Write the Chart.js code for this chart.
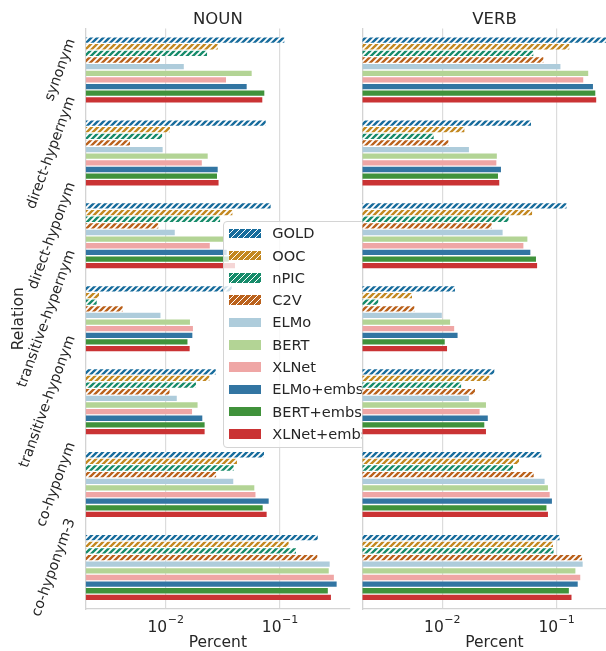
<!DOCTYPE html>
<html>
<head>
<meta charset="utf-8">
<script src="https://cdn.jsdelivr.net/npm/chart.js@4.4.1/dist/chart.umd.min.js"></script>
<style>
  body { margin: 0; width: 606px; height: 651px; overflow: hidden; position: relative; background: #fff; font-family: "DejaVu Sans", sans-serif; }
  .box { position: absolute; top: 0; height: 651px; }
  #legend { position: absolute; left: 222.7px; top: 220.7px; width: 200px; height: 225px; border: 1px solid #d4d4d4; border-radius: 4px; background: rgba(255,255,255,0.8); z-index: 2; }
  #legend .patch { position: absolute; left: 5.6px; width: 31.4px; height: 9.5px; }
  #legend .lab { position: absolute; left: 48.6px; font-size: 14.6px; color: #262626; line-height: 18px; white-space: nowrap; }
</style>
</head>
<body>
<div class="box" style="left:0; width:356px; z-index:1"><canvas id="noun"></canvas></div>
<div id="legend"></div>
<div class="box" style="left:358px; width:270px; z-index:3"><canvas id="verb"></canvas></div>
<script>
// categorias e series
const relations = ['synonym', 'direct-hypernym', 'direct-hyponym', 'transitive-hypernym', 'transitive-hyponym', 'co-hyponym', 'co-hyponym-3'];
const seriesNames = ['GOLD', 'OOC', 'nPIC', 'C2V', 'ELMo', 'BERT', 'XLNet', 'ELMo+embs', 'BERT+embs', 'XLNet+embs'];
const xTicks = [0.01, 0.1];
const xTickExp = ['\u22122', '\u22121'];

// NOUN (percent)
const nounGold      = [0.109, 0.075, 0.0828, 0.0378, 0.0274, 0.0724, 0.214];
const nounOoc       = [0.0285, 0.0109, 0.0383, 0.00261, 0.0241, 0.042, 0.119];
const nounNpic      = [0.023, 0.0093, 0.0299, 0.00249, 0.0184, 0.0393, 0.138];
const nounC2v       = [0.0089, 0.00487, 0.0086, 0.0042, 0.0108, 0.0276, 0.212];
const nounElmo      = [0.0144, 0.0094, 0.012, 0.009, 0.0125, 0.039, 0.272];
const nounBert      = [0.0565, 0.0233, 0.032, 0.0163, 0.019, 0.0596, 0.267];
const nounXlnet     = [0.0337, 0.0207, 0.0243, 0.0173, 0.017, 0.061, 0.296];
const nounElmoEmbs  = [0.0511, 0.0285, 0.0342, 0.0171, 0.0209, 0.0796, 0.313];
const nounBertEmbs  = [0.0729, 0.0281, 0.0356, 0.0155, 0.0219, 0.0705, 0.262];
const nounXlnetEmbs = [0.070, 0.029, 0.0404, 0.0162, 0.0219, 0.0764, 0.279];

// VERB
const verbGold      = [0.29, 0.0597, 0.122, 0.0129, 0.0285, 0.0735, 0.106];
const verbOoc       = [0.129, 0.0156, 0.061, 0.00543, 0.0258, 0.0469, 0.093];
const verbNpic      = [0.0625, 0.0084, 0.038, 0.00275, 0.0146, 0.0415, 0.094];
const verbC2v       = [0.0765, 0.0113, 0.027, 0.00569, 0.0193, 0.063, 0.167];
const verbElmo      = [0.108, 0.0171, 0.0337, 0.0099, 0.0171, 0.0785, 0.169];
const verbBert      = [0.189, 0.030, 0.0555, 0.0117, 0.0241, 0.084, 0.146];
const verbXlnet     = [0.171, 0.0297, 0.0512, 0.0127, 0.0212, 0.087, 0.161];
const verbElmoEmbs  = [0.208, 0.0326, 0.0589, 0.0136, 0.025, 0.091, 0.153];
const verbBertEmbs  = [0.218, 0.0307, 0.066, 0.0105, 0.0233, 0.0815, 0.128];
const verbXlnetEmbs = [0.222, 0.0315, 0.0675, 0.0110, 0.0241, 0.084, 0.135];

const nounSeries = [nounGold, nounOoc, nounNpic, nounC2v, nounElmo, nounBert, nounXlnet, nounElmoEmbs, nounBertEmbs, nounXlnetEmbs];
const verbSeries = [verbGold, verbOoc, verbNpic, verbC2v, verbElmo, verbBert, verbXlnet, verbElmoEmbs, verbBertEmbs, verbXlnetEmbs];

const colors = ['#176c9c', '#c38820', '#168b6a', '#ba611b', '#aeccdb', '#b3d495', '#efa6a5', '#3275a2', '#40923b', '#ca3334'];
const hatched = [true, true, true, true, false, false, false, false, false, false];

const xMin = Math.pow(10, -2.70);
const xMax = Math.pow(10, -0.3876);
const FONT = '"DejaVu Sans", sans-serif';
const TXT = '#262626';

function hatch(color) {
    const c = document.createElement('canvas');
    c.width = 6; c.height = 6;
    const g = c.getContext('2d');
    g.fillStyle = color;
    g.fillRect(0, 0, 6, 6);
    g.strokeStyle = '#ffffff';
    g.lineWidth = 1.9;
    g.beginPath();
    g.moveTo(0, 6); g.lineTo(6, 0);
    g.moveTo(-1, 1); g.lineTo(1, -1);
    g.moveTo(5, 7); g.lineTo(7, 5);
    g.stroke();
    return g.createPattern(c, 'repeat');
}

// textos desenhados a mao (titulo, rotulos giratorios, ticks 10^x)
const textPlugin = {
    id: 'texts',
    beforeDraw(chart, args, opts) {
        if (!opts.whiteBg) return;
        const ctx = chart.ctx;
        ctx.save();
        ctx.fillStyle = '#ffffff';
        ctx.fillRect(chart.chartArea.left - 0.6, 0, chart.width, chart.height);
        ctx.restore();
    },
    afterDraw(chart, args, opts) {
        const ctx = chart.ctx;
        const area = chart.chartArea;
        const xs = chart.scales.x;
        const ys = chart.scales.y;
        ctx.save();
        ctx.fillStyle = TXT;

        // titulo
        ctx.font = '16.5px ' + FONT;
        ctx.textAlign = 'center';
        ctx.textBaseline = 'middle';
        ctx.fillText(opts.title, (area.left + area.right) / 2, 20);

        // ticks 10^-2, 10^-1
        xTicks.forEach(function (v, i) {
            const px = xs.getPixelForValue(v);
            ctx.font = '15.5px ' + FONT;
            const w1 = ctx.measureText('10').width;
            ctx.font = '11px ' + FONT;
            const w2 = ctx.measureText(xTickExp[i]).width;
            const x0 = px - (w1 + w2 + 0.5) / 2;
            ctx.textAlign = 'left';
            ctx.textBaseline = 'alphabetic';
            ctx.font = '15.5px ' + FONT;
            ctx.fillText('10', x0, 632);
            ctx.font = '11px ' + FONT;
            ctx.fillText(xTickExp[i], x0 + w1 + 0.5, 622.5);
        });

        // titulo eixo x
        ctx.font = '15.5px ' + FONT;
        ctx.textAlign = 'center';
        ctx.textBaseline = 'middle';
        ctx.fillText('Percent', (area.left + area.right) / 2, 643);

        if (opts.yLabels) {
            const ang = 70 * Math.PI / 180;
            ctx.font = '14.3px ' + FONT;
            relations.forEach(function (r, i) {
                const py = ys.getPixelForValue(i);
                const w = ctx.measureText(r).width;
                const h = 15;
                const bw = w * Math.cos(ang) + h * Math.sin(ang);
                ctx.save();
                ctx.translate(78.5 - bw / 2, py);
                ctx.rotate(-ang);
                ctx.textAlign = 'center';
                ctx.textBaseline = 'middle';
                ctx.fillText(r, 0, 0);
                ctx.restore();
            });
            ctx.save();
            ctx.font = '15.5px ' + FONT;
            ctx.translate(19, (area.top + area.bottom) / 2);
            ctx.rotate(-Math.PI / 2);
            ctx.textAlign = 'center';
            ctx.textBaseline = 'middle';
            ctx.fillText('Relation', 0, 0);
            ctx.restore();
        }
        ctx.restore();
    }
};

function makeChart(id, series, title, pad, yLabels, whiteBg) {
    const datasets = series.map(function (vals, i) {
        return {
            label: seriesNames[i],
            data: vals,
            backgroundColor: hatched[i] ? hatch(colors[i]) : colors[i],
            borderWidth: 0,
            barPercentage: 0.8,
            categoryPercentage: 0.8
        };
    });
    return new Chart(document.getElementById(id), {
        type: 'bar',
        data: { labels: relations, datasets: datasets },
        plugins: [textPlugin],
        options: {
            indexAxis: 'y',
            responsive: true,
            maintainAspectRatio: false,
            animation: false,
            layout: { padding: pad },
            plugins: {
                legend: { display: false },
                tooltip: { enabled: false },
                texts: { title: title, yLabels: yLabels, whiteBg: whiteBg }
            },
            scales: {
                x: {
                    type: 'logarithmic',
                    min: xMin,
                    max: xMax,
                    afterBuildTicks: function (scale) {
                        scale.ticks = xTicks.map(function (v) { return { value: v }; });
                    },
                    afterFit: function (scale) { scale.height = 0; },
                    ticks: { display: false },
                    grid: { color: '#dcdcdc', lineWidth: 1.2, drawTicks: false },
                    border: { display: true, color: '#d3d3d3', width: 1.3 }
                },
                y: {
                    afterFit: function (scale) { scale.width = 0; },
                    ticks: { display: false },
                    grid: { display: false, drawTicks: false },
                    border: { display: true, color: '#d3d3d3', width: 1.3 }
                }
            }
        }
    });
}

makeChart('noun', nounSeries, 'NOUN', { left: 85.7, top: 28.5, right: 6, bottom: 42 }, true, false);
makeChart('verb', verbSeries, 'VERB', { left: 4.3, top: 28.5, right: 1.4, bottom: 42 }, false, true);

// legenda em HTML, por cima do painel NOUN
const legend = document.getElementById('legend');
seriesNames.forEach(function (name, i) {
    const cy = 233.3 + i * 22.3 - 221.7;
    const p = document.createElement('div');
    p.className = 'patch';
    p.style.top = (cy - 4.75) + 'px';
    if (hatched[i]) {
        p.style.background = 'repeating-linear-gradient(135deg, ' + colors[i] + ' 0px, ' + colors[i] + ' 2.9px, #ffffff 2.9px, #ffffff 4.24px)';
    } else {
        p.style.background = colors[i];
    }
    legend.appendChild(p);
    const t = document.createElement('div');
    t.className = 'lab';
    t.style.top = (cy - 9) + 'px';
    t.textContent = name;
    legend.appendChild(t);
});
</script>
</body>
</html>
